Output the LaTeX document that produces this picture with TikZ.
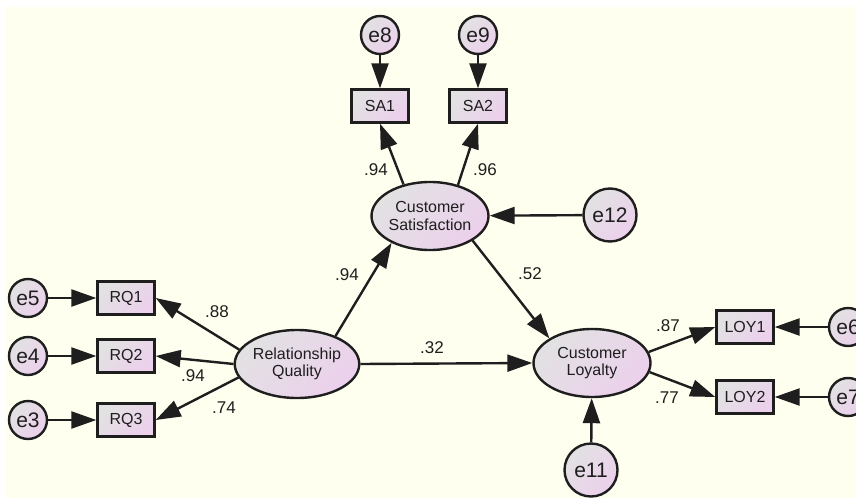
\documentclass[tikz,border=0pt]{standalone}
\usepackage{fontspec}
\setmainfont{Liberation Sans}
\usetikzlibrary{shapes.geometric,arrows.meta}
\definecolor{paper}{RGB}{255,255,240}
\definecolor{lgray}{RGB}{226,226,226}
\definecolor{lpink}{RGB}{236,208,236}
\definecolor{ink}{RGB}{30,30,30}
\begin{document}
\begin{tikzpicture}[x=1pt,y=-1pt,
    every node/.style={text=ink},
    fill2/.style={left color=lgray,right color=lpink,shading angle=45},
    latent/.style={ellipse,draw=ink,line width=2.4pt,fill2,minimum width=117pt,minimum height=68pt,
        inner sep=0pt,align=center,font=\fontsize{16}{17.5}\selectfont},
    item/.style={rectangle,draw=ink,line width=2.4pt,fill2,minimum width=57pt,minimum height=33pt,
        inner sep=0pt,font=\fontsize{16}{17}\selectfont},
    err/.style={circle,draw=ink,line width=2.4pt,fill2,minimum size=38pt,inner sep=0pt,
        font=\fontsize{21}{22}\selectfont},
    bigerr/.style={err,minimum size=53pt},
    coef/.style={font=\fontsize{17}{18}\selectfont,inner sep=0pt},
    path/.style={draw=ink,line width=2.4pt,-{Triangle[length=25pt,width=17pt]}}]
    % draw the background
    \clip (0,0) rectangle (856,498);
    \fill[white] (0,0) rectangle (856,498);
    \fill[paper] (5,7) rectangle (856,498);
    % draw the latent variables
    \node[latent] (rq) at (297,364) {Relationship\\Quality};
    \node[latent] (cs) at (430,216) {Customer\\Satisfaction};
    \node[latent] (cl) at (592,363) {Customer\\Loyalty};
    % draw the observed items
    \node[item] (rq1) at (126,298) {RQ1};
    \node[item] (rq2) at (126,356) {RQ2};
    \node[item] (rq3) at (126,420) {RQ3};
    \node[item] (sa1) at (380,106) {SA1};
    \node[item] (sa2) at (478,106) {SA2};
    \node[item] (loy1) at (745,327) {LOY1};
    \node[item] (loy2) at (745,397) {LOY2};
    % draw the error terms
    \node[err] (e5) at (28,298) {e5};
    \node[err] (e4) at (28,356) {e4};
    \node[err] (e3) at (28,420) {e3};
    \node[err] (e8) at (380,35) {e8};
    \node[err] (e9) at (478,35) {e9};
    \node[err] (e6) at (848,327) {e6};
    \node[err] (e7) at (848,397) {e7};
    \node[bigerr] (e12) at (610,215) {e12};
    \node[bigerr] (e11) at (591,470) {e11};
    % draw the paths
    \draw[path] (e5) -- (rq1);
    \draw[path] (e4) -- (rq2);
    \draw[path] (e3) -- (rq3);
    \draw[path] (e8) -- (sa1);
    \draw[path] (e9) -- (sa2);
    \draw[path] (e6) -- (loy1);
    \draw[path] (e7) -- (loy2);
    \draw[path] (e12) -- (cs);
    \draw[path] (e11) -- (cl);
    \draw[path] (rq.166) -- (rq1.east);
    \draw[path] (rq.west) -- (rq2.east);
    \draw[path] (rq.193) -- (rq3.east);
    \draw[path] (cs.130) -- (sa1.south);
    \draw[path] (cs.48) -- (sa2.south);
    \draw[path] (cl.11) -- (loy1.west);
    \draw[path] (cl.-9) -- (loy2.west);
    \draw[path] (rq.36) -- (cs.215);
    \draw[path] (cs.-30) -- (cl.150);
    \draw[path] (rq.east) -- (cl.west);
    % draw the estimates
    \node[coef] (w1) at (217,312) {.88};
    \node[coef] (w2) at (193,376) {.94};
    \node[coef] (w3) at (224,408) {.74};
    \node[coef] (w4) at (376,170) {.94};
    \node[coef] (w5) at (485,170) {.96};
    \node[coef] (w6) at (347,275) {.94};
    \node[coef] (w7) at (530,274) {.52};
    \node[coef] (w8) at (432,348) {.32};
    \node[coef] (w9) at (668,326) {.87};
    \node[coef] (w10) at (667,398) {.77};
\end{tikzpicture}
\end{document}
